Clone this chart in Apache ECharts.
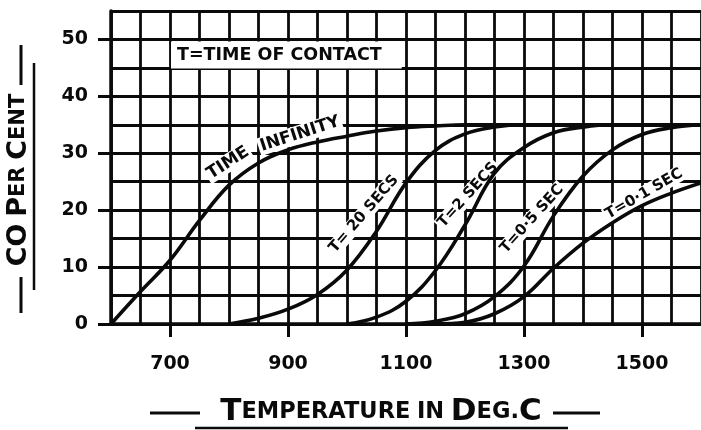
<!DOCTYPE html>
<html>
<head>
<meta charset="utf-8">
<script src="https://cdn.jsdelivr.net/npm/echarts@6/dist/echarts.min.js"></script>
<style>
  html, body { margin: 0; padding: 0; background: #fff; }
  #chart { width: 701px; height: 430px; }
</style>
</head>
<body>
<div id="chart"></div>
<script>
// Temperatures (deg C) at which each curve is sampled
var temps = [600, 650, 700, 750, 800, 850, 900, 950, 1000, 1050, 1100,
             1150, 1200, 1250, 1300, 1350, 1400, 1450, 1500, 1550, 1600];

// CO per cent for each time of contact (null = curve not yet started)
var timeInfinity = [0, 5.7, 11.2, 18.2, 24.4, 28.3, 30.6, 32.0, 33.0, 33.9, 34.5,
                    34.8, 35, 35, 35, 35, 35, 35, 35, 35, 35];
var t20secs = [null, null, null, null, 0, 1.0, 2.6, 5.2, 9.5, 16.3, 24.8,
               30.5, 33.4, 34.6, 35, 35, 35, 35, 35, 35, 35];
var t2secs = [null, null, null, null, null, null, null, null, 0, 1.2, 4.0,
              9.4, 17.4, 26.5, 31.0, 33.6, 34.6, 35, 35, 35, 35];
var t05sec = [null, null, null, null, null, null, null, null, null, null, 0,
              0.5, 1.8, 4.8, 10.2, 19.0, 26.0, 30.6, 33.3, 34.5, 35];
var t01sec = [null, null, null, null, null, null, null, null, null, null, null,
              0, 0.3, 1.8, 4.8, 9.8, 14.2, 17.8, 20.8, 23.0, 24.8];

// Axis tick labels
var xTickLabels = [700, 900, 1100, 1300, 1500];
var yTickLabels = [0, 10, 20, 30, 40, 50];

function pairs(values) {
  var out = [];
  for (var i = 0; i < temps.length; i++) {
    if (values[i] !== null) out.push([temps[i], values[i]]);
  }
  return out;
}

var INK = '#0a0a0a';
var FONT = '"DejaVu Sans", sans-serif';

function curve(name, values) {
  return {
    name: name,
    type: 'line',
    xAxisIndex: 0,
    yAxisIndex: 0,
    data: pairs(values),
    smooth: 0.4,
    showSymbol: false,
    silent: true,
    lineStyle: { color: INK, width: 3.6 },
    z: 5
  };
}

// Curve names sit on a white patch that hides the ruling but stays under the curves
function curveLabel(text, x, y, deg, size) {
  return {
    type: 'text',
    x: x, y: y,
    rotation: deg * Math.PI / 180,
    z: 1,
    style: {
      text: text,
      fill: INK,
      font: 'bold ' + size + 'px ' + FONT,
      align: 'center',
      verticalAlign: 'middle',
      backgroundColor: '#fff',
      padding: [1, 2, 0, 2]
    }
  };
}

function stroke(x1, y1, x2, y2, w) {
  return {
    type: 'line',
    z: 10,
    shape: { x1: x1, y1: y1, x2: x2, y2: y2 },
    style: { stroke: INK, lineWidth: w }
  };
}

var labelStyle = {
  color: INK,
  fontFamily: FONT,
  fontWeight: 'bold',
  fontSize: 19,
  formatter: function (v) { return String(v); }
};

var chart = echarts.init(document.getElementById('chart'), null, { renderer: 'canvas' });

chart.setOption({
  animation: false,
  backgroundColor: '#fff',
  grid: { left: 111, top: 11, right: -4, bottom: 106 },
  xAxis: [
    {
      // ruled grid every 50 degrees
      type: 'value',
      min: 600, max: 1600, interval: 50,
      axisLine: { show: true, onZero: false, lineStyle: { color: INK, width: 3.5 } },
      axisTick: { show: false },
      axisLabel: { show: false },
      splitLine: { show: true, lineStyle: { color: INK, width: 2.8 } }
    },
    {
      // numbered ticks
      type: 'value',
      position: 'bottom',
      min: 600, max: 1600,
      axisLine: { show: false },
      axisTick: { show: true, customValues: xTickLabels, length: 13, lineStyle: { color: INK, width: 3 } },
      axisLabel: Object.assign({ customValues: xTickLabels, margin: 31 }, labelStyle),
      splitLine: { show: false }
    }
  ],
  yAxis: [
    {
      type: 'value',
      min: 0, max: 55, interval: 5,
      axisLine: { show: true, lineStyle: { color: INK, width: 3.5 } },
      axisTick: { show: false },
      axisLabel: { show: false },
      splitLine: { show: true, lineStyle: { color: INK, width: 2.8 } }
    },
    {
      type: 'value',
      position: 'left',
      min: 0, max: 55,
      axisLine: { show: false },
      axisTick: { show: true, customValues: yTickLabels, length: 13, lineStyle: { color: INK, width: 3 } },
      axisLabel: Object.assign({ customValues: yTickLabels, margin: 23 }, labelStyle),
      splitLine: { show: false }
    }
  ],
  series: [
    curve('Time infinity', timeInfinity),
    curve('T = 20 secs', t20secs),
    curve('T = 2 secs', t2secs),
    curve('T = 0.5 sec', t05sec),
    curve('T = 0.1 sec', t01sec)
  ],
  graphic: [
    // key note
    {
      type: 'text', x: 171, y: 55, z: 1,
      style: {
        text: 'T=TIME OF CONTACT',
        fill: INK,
        font: 'bold 17.5px ' + FONT,
        align: 'left',
        verticalAlign: 'middle',
        backgroundColor: '#fff',
        padding: [5, 20, 4, 6]
      }
    },
    // curve names
    curveLabel('TIME', 228, 163, 33, 17),
    curveLabel('INFINITY', 300, 134, 18, 17),
    curveLabel('T= 20 SECS', 364, 214, 49, 15),
    curveLabel('T=2 SECS', 468, 195, 48, 15),
    curveLabel('T=0·5 SEC', 532, 219, 48, 15),
    curveLabel('T=0·1 SEC', 644, 194, 30, 15),
    // y axis title
    {
      type: 'text', x: 19, y: 180, z: 10,
      rotation: Math.PI / 2,
      style: {
        text: '{b|CO}  {b|P}{s|ER}  {b|C}{s|ENT}',
        fill: INK,
        align: 'center',
        verticalAlign: 'middle',
        rich: {
          b: { font: 'bold 27px ' + FONT, fill: INK },
          s: { font: 'bold 21px ' + FONT, fill: INK }
        }
      }
    },
    stroke(21, 45, 21, 85, 3),
    stroke(21, 277, 21, 313, 3),
    stroke(34, 63, 34, 290, 2.5),
    // x axis title
    {
      type: 'text', x: 381, y: 412, z: 10,
      style: {
        text: '{b|T}{s|EMPERATURE}  {s|IN}  {b|D}{s|EG.}{b|C}',
        fill: INK,
        align: 'center',
        verticalAlign: 'middle',
        rich: {
          b: { font: 'bold 31px ' + FONT, fill: INK },
          s: { font: 'bold 22.5px ' + FONT, fill: INK }
        }
      }
    },
    stroke(150, 413, 200, 413, 3),
    stroke(553, 413, 600, 413, 3),
    stroke(195, 428, 568, 428, 2.5)
  ]
});
</script>
</body>
</html>
